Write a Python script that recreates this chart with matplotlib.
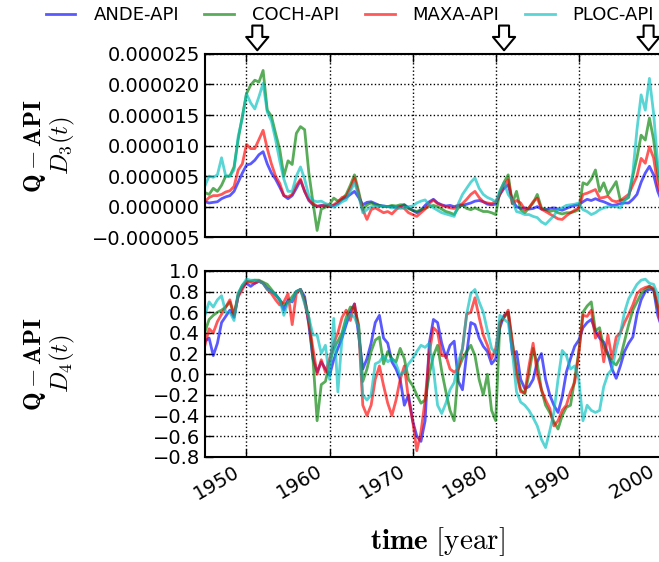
import numpy as np
import matplotlib
matplotlib.use("Agg")
import matplotlib.pyplot as plt
import matplotlib.transforms as mtransforms
from matplotlib.ticker import MultipleLocator, FuncFormatter

plt.rcParams["mathtext.fontset"] = "cm"

# Half-year sampling, 1945.0 .. 2000.0
years = np.arange(1945.0, 2000.01, 0.5)

names = ["ANDE-API", "COCH-API", "MAXA-API", "PLOC-API"]
colors = ["b", "g", "r", "c"]
events = [1951.3, 1981.0, 1998.4]

# D3(t), in units of 1e-6
d3_ande = [0.8, 0.6, 0.7, 0.8, 1.3, 1.6, 1.8, 2.5, 4.0, 5.5,
           6.8, 7.0, 7.6, 8.5, 9.0, 7.0, 5.5, 4.5, 3.2, 1.8, 1.3, 1.8, 3.0, 4.3, 2.5, 1.0, 0.3, 0.0, 0.2, 0.1,
           0.0, 0.2, 0.5, 1.2, 1.5, 2.0, 2.5, 1.5, 0.3, 0.7, 0.8, 0.5, 0.2, 0.1, 0.0, 0.0, -0.1, 0.0, 0.3, -0.2,
           -0.6, -1.0, -0.6, 0.2, 0.8, 1.2, 0.6, 0.3, 0.1, 0.2, 0.0, 0.2, 0.2, 0.4, 0.6, 0.9, 1.0, 0.8, 0.4, 0.3,
           0.4, 2.0, 3.0, 3.6, 1.0, 0.0, -0.3, -0.2, -0.4, -0.3, 0.0, -0.4, -0.5, -0.3, -0.2, -0.4, -0.6, -0.3, 0.0, 0.2,
           0.3, 0.8, 1.2, 1.0, 1.3, 1.0, 0.8, 0.5, 0.2, 0.3, 0.5, 0.6, 0.6, 1.2, 2.0, 4.0, 5.5, 6.6, 5.2, 2.5,
           0.8]
d3_coch = [2.3, 2.0, 3.0, 2.5, 3.5, 5.0, 5.0, 6.5, 11.0, 14.8,
           18.5, 19.9, 20.7, 20.4, 22.3, 15.8, 14.8, 12.0, 9.4, 5.0, 7.5, 6.9, 12.0, 13.1, 12.6, 5.6, 0.7, -3.9, -0.4, -0.1,
           0.4, 1.4, 0.9, 1.2, 2.0, 3.5, 5.2, 2.5, -0.5, 0.3, 0.6, 0.3, 0.2, 0.0, 0.0, 0.2, 0.1, 0.3, 0.3, -0.3,
           -0.6, -0.8, -0.5, -0.3, 0.0, 0.2, 0.0, -0.4, -0.8, -1.0, -1.3, -0.2, 0.3, -0.3, -0.5, -0.2, -0.5, -0.8, -0.8, -1.0,
           -1.3, 2.5, 4.0, 5.2, 0.5, 2.5, -0.5, -1.0, -0.2, 0.6, 2.0, -0.2, -0.5, -0.8, -0.6, -1.0, -1.2, -1.0, -1.0, -0.8,
           -0.5, 3.9, 3.6, 4.5, 6.0, 2.5, 3.9, 2.0, 3.0, 4.1, 1.0, 1.1, 1.5, 5.0, 8.0, 11.7, 10.9, 14.5, 11.0, 5.5,
           2.0]
d3_maxa = [0.8, 1.5, 1.8, 1.8, 2.0, 2.4, 2.6, 3.3, 6.0, 7.0,
           10.2, 9.5, 9.5, 11.0, 12.5, 9.5, 7.0, 5.0, 3.8, 1.8, 1.6, 2.0, 3.5, 4.5, 2.5, 1.2, 0.5, 0.1, 0.1, 0.3,
           0.1, 0.3, 0.8, 1.5, 1.7, 3.0, 4.7, 2.0, -0.5, -2.1, -0.5, -0.2, -0.6, -1.0, -0.8, -1.2, -0.5, 0.0, -0.3, -1.0,
           -1.3, -1.6, -1.0, -0.4, 0.5, 1.1, 0.5, 0.2, 0.0, -0.2, -0.3, 0.2, 0.5, 1.2, 2.0, 2.5, 1.5, 0.8, 0.6, 0.5,
           0.8, 2.0, 3.5, 4.4, 0.5, 1.0, 0.6, -0.5, -0.2, 0.8, 1.4, -0.4, -0.8, -1.2, -1.6, -2.0, -2.1, -1.5, -1.0, -0.6,
           -0.2, 2.0, 2.2, 2.5, 2.8, 1.4, 1.5, 1.7, 1.0, 0.8, 1.0, 1.5, 2.0, 3.5, 5.0, 7.9, 7.1, 9.8, 8.0, 3.5,
           1.5]
d3_ploc = [3.4, 5.0, 4.8, 5.2, 8.0, 5.0, 5.0, 6.0, 11.5, 14.5,
           18.5, 17.0, 16.0, 18.0, 20.2, 15.5, 14.0, 11.0, 7.5, 4.5, 2.5, 2.5, 5.0, 6.5, 4.5, 1.8, 1.0, 0.8, 0.9, 0.5,
           0.3, -0.1, 0.3, 0.8, 1.1, 2.5, 3.9, 1.8, -1.0, -0.5, 0.0, 0.1, 0.0, 0.1, 0.0, -0.2, -0.1, -0.3, -0.2, 0.0,
           0.1, 0.6, 0.9, 1.1, 0.3, -0.2, -0.6, -1.0, -1.2, -1.4, -1.6, 0.5, 2.0, 3.0, 4.0, 4.7, 3.0, 2.0, 1.5, 1.2,
           0.8, 2.5, 3.9, 2.0, 1.0, -0.8, -1.0, -1.3, -1.3, -1.6, -1.8, -2.5, -2.9, -2.2, -1.5, -0.4, -0.2, 0.2, 0.3, 0.4,
           0.6, -0.5, -0.8, -1.3, -1.0, -0.5, -0.2, 0.0, 0.0, 0.0, -0.2, 1.0, 1.7, 5.5, 12.6, 18.3, 15.8, 21.0, 15.3, 7.0,
           3.0]

# D4(t)
d4_ande = [0.32, 0.35, 0.18, 0.30, 0.50, 0.56, 0.62, 0.55, 0.76, 0.84,
           0.88, 0.85, 0.88, 0.90, 0.88, 0.83, 0.80, 0.77, 0.72, 0.62, 0.72, 0.70, 0.80, 0.82, 0.75, 0.48, 0.15, 0.02, 0.12, 0.05,
           -0.01, 0.14, 0.25, 0.35, 0.48, 0.60, 0.68, 0.38, 0.05, 0.15, 0.30, 0.50, 0.57, 0.35, 0.30, 0.12, 0.05, -0.05, -0.30, -0.20,
           -0.45, -0.60, -0.65, -0.45, 0.30, 0.53, 0.50, 0.30, 0.16, 0.28, 0.32, -0.07, -0.15, 0.20, 0.50, 0.48, 0.35, 0.27, 0.22, 0.10,
           0.15, 0.45, 0.57, 0.60, 0.20, 0.22, -0.05, -0.14, -0.12, -0.05, 0.12, 0.20, -0.05, -0.20, -0.30, -0.37, -0.22, 0.02, 0.15, 0.27,
           0.33, 0.45, 0.50, 0.53, 0.42, 0.35, 0.31, 0.20, 0.05, -0.04, 0.08, 0.22, 0.30, 0.36, 0.58, 0.72, 0.80, 0.82, 0.82, 0.57,
           0.45]
d4_coch = [0.41, 0.53, 0.57, 0.60, 0.62, 0.65, 0.70, 0.57, 0.78, 0.86,
           0.90, 0.90, 0.91, 0.91, 0.89, 0.87, 0.82, 0.77, 0.72, 0.67, 0.70, 0.75, 0.80, 0.82, 0.72, 0.55, 0.15, -0.45, -0.10, -0.07,
           0.10, 0.25, 0.32, 0.40, 0.55, 0.65, 0.64, 0.48, -0.07, 0.05, 0.22, 0.33, 0.36, 0.10, 0.22, 0.15, 0.12, 0.25, 0.15, -0.05,
           -0.11, -0.20, -0.28, -0.25, 0.00, 0.18, 0.28, 0.03, -0.17, -0.35, -0.45, 0.05, 0.15, 0.22, 0.28, 0.18, -0.05, -0.20, 0.00, -0.35,
           -0.45, 0.50, 0.55, 0.60, 0.30, 0.05, -0.15, -0.19, 0.00, 0.25, 0.10, -0.15, -0.30, -0.37, -0.46, -0.53, -0.40, -0.32, -0.30, -0.05,
           0.22, 0.60, 0.66, 0.70, 0.42, 0.45, 0.26, 0.19, 0.12, 0.09, 0.16, 0.32, 0.48, 0.62, 0.70, 0.78, 0.82, 0.85, 0.82, 0.65,
           0.50]
d4_maxa = [0.28, 0.44, 0.40, 0.51, 0.58, 0.65, 0.72, 0.57, 0.75, 0.82,
           0.90, 0.89, 0.88, 0.90, 0.88, 0.82, 0.78, 0.72, 0.67, 0.70, 0.78, 0.48, 0.78, 0.82, 0.70, 0.50, 0.25, 0.00, 0.14, 0.02,
           0.15, 0.30, 0.40, 0.55, 0.62, 0.52, 0.68, 0.44, -0.30, -0.40, -0.30, -0.05, 0.08, -0.11, -0.28, -0.40, -0.25, -0.05, 0.08, -0.24,
           -0.45, -0.74, -0.56, -0.25, 0.20, 0.45, 0.41, 0.18, 0.18, 0.05, 0.02, 0.05, 0.25, 0.58, 0.60, 0.74, 0.55, 0.38, 0.28, 0.15,
           0.25, 0.50, 0.55, 0.62, 0.32, 0.00, -0.17, -0.18, 0.08, 0.30, 0.00, -0.15, -0.25, -0.33, -0.50, -0.45, -0.35, -0.30, -0.17, -0.08,
           0.20, 0.57, 0.56, 0.62, 0.35, 0.41, 0.12, 0.38, 0.15, 0.36, 0.40, 0.50, 0.58, 0.67, 0.78, 0.82, 0.84, 0.85, 0.83, 0.67,
           0.40]
d4_ploc = [0.57, 0.70, 0.65, 0.72, 0.76, 0.60, 0.60, 0.52, 0.78, 0.86,
           0.92, 0.91, 0.91, 0.90, 0.88, 0.82, 0.80, 0.77, 0.72, 0.57, 0.70, 0.71, 0.80, 0.82, 0.68, 0.55, 0.38, 0.38, 0.20, 0.28,
           -0.05, 0.54, -0.17, 0.35, 0.52, 0.58, 0.55, 0.45, -0.20, -0.25, -0.20, 0.10, 0.12, 0.18, 0.12, 0.15, 0.10, -0.01, 0.02, 0.10,
           0.15, 0.22, 0.28, 0.26, 0.30, 0.05, -0.30, -0.38, -0.28, -0.15, -0.08, 0.12, 0.25, 0.58, 0.78, 0.82, 0.70, 0.60, 0.42, 0.25,
           0.20, 0.57, 0.53, 0.50, 0.22, -0.17, -0.27, -0.30, -0.35, -0.42, -0.50, -0.63, -0.71, -0.55, -0.37, -0.05, 0.23, 0.18, 0.05, 0.08,
           -0.05, -0.45, -0.30, -0.35, -0.37, -0.35, -0.12, 0.00, 0.05, 0.25, 0.40, 0.60, 0.73, 0.80, 0.87, 0.91, 0.92, 0.88, 0.87, 0.77,
           0.60]

d3 = [d3_ande, d3_coch, d3_maxa, d3_ploc]
d4 = [d4_ande, d4_coch, d4_maxa, d4_ploc]

def minus(fmt):
    return FuncFormatter(lambda v, pos: (fmt % v).replace("-", "\u2212"))

fig = plt.figure(figsize=(6.59, 5.62), dpi=100)
ax1 = fig.add_axes([0.311, 0.578, 0.706, 0.326])
ax2 = fig.add_axes([0.311, 0.187, 0.706, 0.331], sharex=ax1)

for name, col, s3, s4 in zip(names, colors, d3, d4):
    ax1.plot(years, np.array(s3) * 1e-6, color=col, lw=2, alpha=0.65, label=name)
    ax2.plot(years, s4, color=col, lw=2, alpha=0.65)

ax1.set_xlim(1945, 2001)
ax1.set_ylim(-0.000005, 0.000025)
ax1.yaxis.set_major_locator(MultipleLocator(0.000005))
ax1.yaxis.set_major_formatter(minus("%.6f"))
ax2.set_ylim(-0.8, 1.0)
ax2.yaxis.set_major_locator(MultipleLocator(0.2))
ax2.yaxis.set_major_formatter(minus("%.1f"))
ax2.xaxis.set_major_locator(MultipleLocator(10))
ax2.xaxis.set_major_formatter(FuncFormatter(lambda v, pos: "%d" % v))

for ax in (ax1, ax2):
    ax.grid(True, color="k", linestyle=":", linewidth=1)
    ax.tick_params(direction="in", top=True, right=True, length=6, width=1, labelsize=14)
    for sp in ax.spines.values():
        sp.set_linewidth(1.5)
    ax.yaxis.set_label_coords(-0.275, 0.5)

ax1.tick_params(labelbottom=False)
# rotated year labels, nudged a few pixels left of their ticks
shift = mtransforms.ScaledTranslation(-4 / 100, 0, fig.dpi_scale_trans)
for lab in ax2.get_xticklabels():
    lab.set_rotation(30)
    lab.set_ha("right")
    lab.set_transform(lab.get_transform() + shift)

ax1.set_ylabel("$\\mathbf{Q-API}$\n$D_3(t)$", fontsize=18, linespacing=1.0)
ax2.set_ylabel("$\\mathbf{Q-API}$\n$D_4(t)$", fontsize=18, linespacing=1.0)
ax2.set_xlabel("$\\mathbf{time}\\ [\\mathrm{year}]$", fontsize=21, labelpad=16)

# hollow arrows marking the events above the top panel
for ev in events:
    ax1.annotate("", xy=(ev, 1.02), xytext=(ev, 1.155),
                 xycoords=("data", "axes fraction"), textcoords=("data", "axes fraction"),
                 arrowprops=dict(arrowstyle="simple,head_length=0.6,head_width=1.0,tail_width=0.45",
                                 fc="white", ec="k", lw=1.5, mutation_scale=16,
                                 shrinkA=0, shrinkB=0),
                 annotation_clip=False)

fig.legend(loc="center", bbox_to_anchor=(0.531, 0.973), ncol=4, frameon=False,
           fontsize=13, handlelength=1.65, handletextpad=1.0, columnspacing=1.4)

fig.savefig("out.png", dpi=100)
